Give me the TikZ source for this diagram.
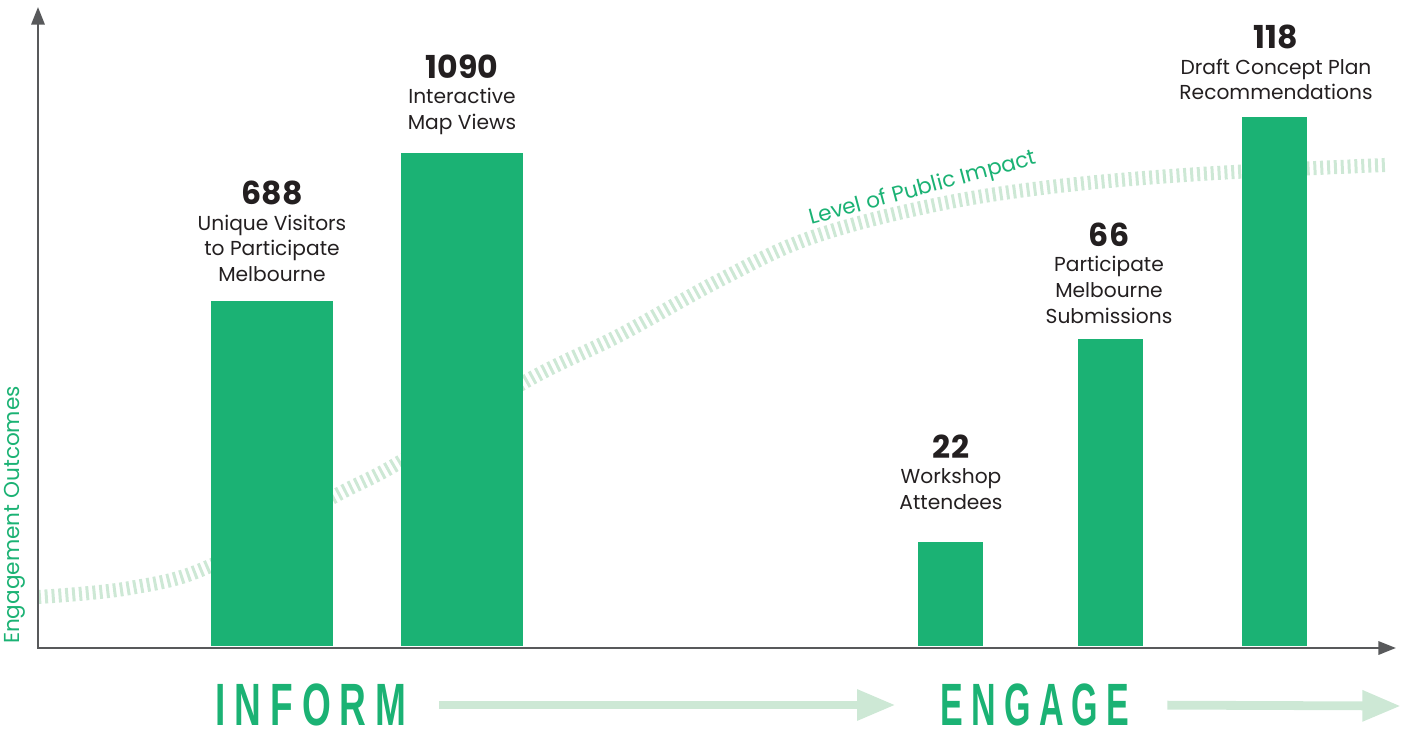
\documentclass[tikz,border=0pt]{standalone}
\usepackage{fontspec}
\setmainfont{Poppins}
\newfontfamily\stencilfont[LetterSpace=24]{Liberation Sans}
\usetikzlibrary{arrows.meta,positioning}
\definecolor{barGreen}{HTML}{1BB274}
\definecolor{paleGreen}{HTML}{CDE8D5}
\definecolor{axisGray}{HTML}{58595B}
\definecolor{numBlack}{HTML}{231F20}
\tikzset{
  bar/.style={fill=barGreen},
  num/.style={font=\bfseries\fontsize{18}{20}\selectfont, text=numBlack, inner sep=0pt},
  desc/.style={font=\fontsize{11.5}{14.7}\selectfont, text=numBlack, align=center, inner sep=0pt},
  greenlab/.style={font=\fontsize{12.3}{14}\selectfont, text=barGreen, inner sep=0pt},
  phase/.style={font=\stencilfont\bfseries\fontsize{34}{36}\selectfont, text=barGreen, inner sep=1pt},
  axis/.style={draw=axisGray, line width=1.5pt},
  flow/.style={draw=paleGreen, line width=5pt, -{Triangle[length=22pt,width=16.5pt]}},
}
\begin{document}
\begin{tikzpicture}[x=0.02cm, y=-0.02cm]
\useasboundingbox (0,0) rectangle (1403,733);

% level of public impact curve, under the bars
\draw[paleGreen, line width=8pt, dash pattern=on 1.7pt off 2.2pt]
  plot[smooth, tension=0.6] coordinates {(38,597) (130,588) (210,566) (333,497) (400,462)
    (523,383) (620,335) (720,280) (810,238) (930,206) (1050,187) (1200,174) (1385,165)};
\node[greenlab, rotate=15] (impact) at (923,189) {Level of Public Impact};

% axes
\coordinate (origin) at (38,648);
\coordinate (ytip) at (38,7);
\coordinate (xtip) at (1396,648);
\draw[axis, {Triangle[length=10pt,width=7.5pt]}-{Triangle[length=10pt,width=7.5pt]}]
  (ytip) -- (origin) -- (xtip);
\node[greenlab, rotate=90] (outcomes) at (15,515) {Engagement Outcomes};

% bars
\fill[bar] (211,646) rectangle (333,301);
\fill[bar] (401,646) rectangle (523,153);
\fill[bar] (918,646) rectangle (983,542);
\fill[bar] (1078,646) rectangle (1143,339);
\fill[bar] (1242,646) rectangle (1307,117);

% values
\node[num] (n688) at (272,193) {688};
\node[desc, below=0.18cm of n688] (visitors) {Unique Visitors\\to Participate\\Melbourne};
\node[num] (n1090) at (462,67) {1090};
\node[desc, below=0.18cm of n1090] (mapviews) {Interactive\\Map Views};
\node[num] (n22) at (951,447) {22};
\node[desc, below=0.18cm of n22] (workshop) {Workshop\\Attendees};
\node[num] (n66) at (1109,235) {66};
\node[desc, below=0.18cm of n66] (submissions) {Participate\\Melbourne\\Submissions};
\node[num] (n118) at (1276,37) {118};
\node[desc, below=0.18cm of n118] (draftplan) {Draft Concept Plan\\Recommendations};

% phases
\node[phase] (inform) at (311,705) {\scalebox{0.62}[1]{INFORM}};
\node[phase] (engage) at (1035,705) {\scalebox{0.57}[1]{ENGAGE}};
\coordinate (flowend) at (1401,706);
\draw[flow, shorten <=0.62cm, shorten >=0.86cm] (inform.east) -- (engage.west);
\draw[flow, shorten <=0.72cm] (engage.east) -- (flowend);
\end{tikzpicture}
\end{document}
